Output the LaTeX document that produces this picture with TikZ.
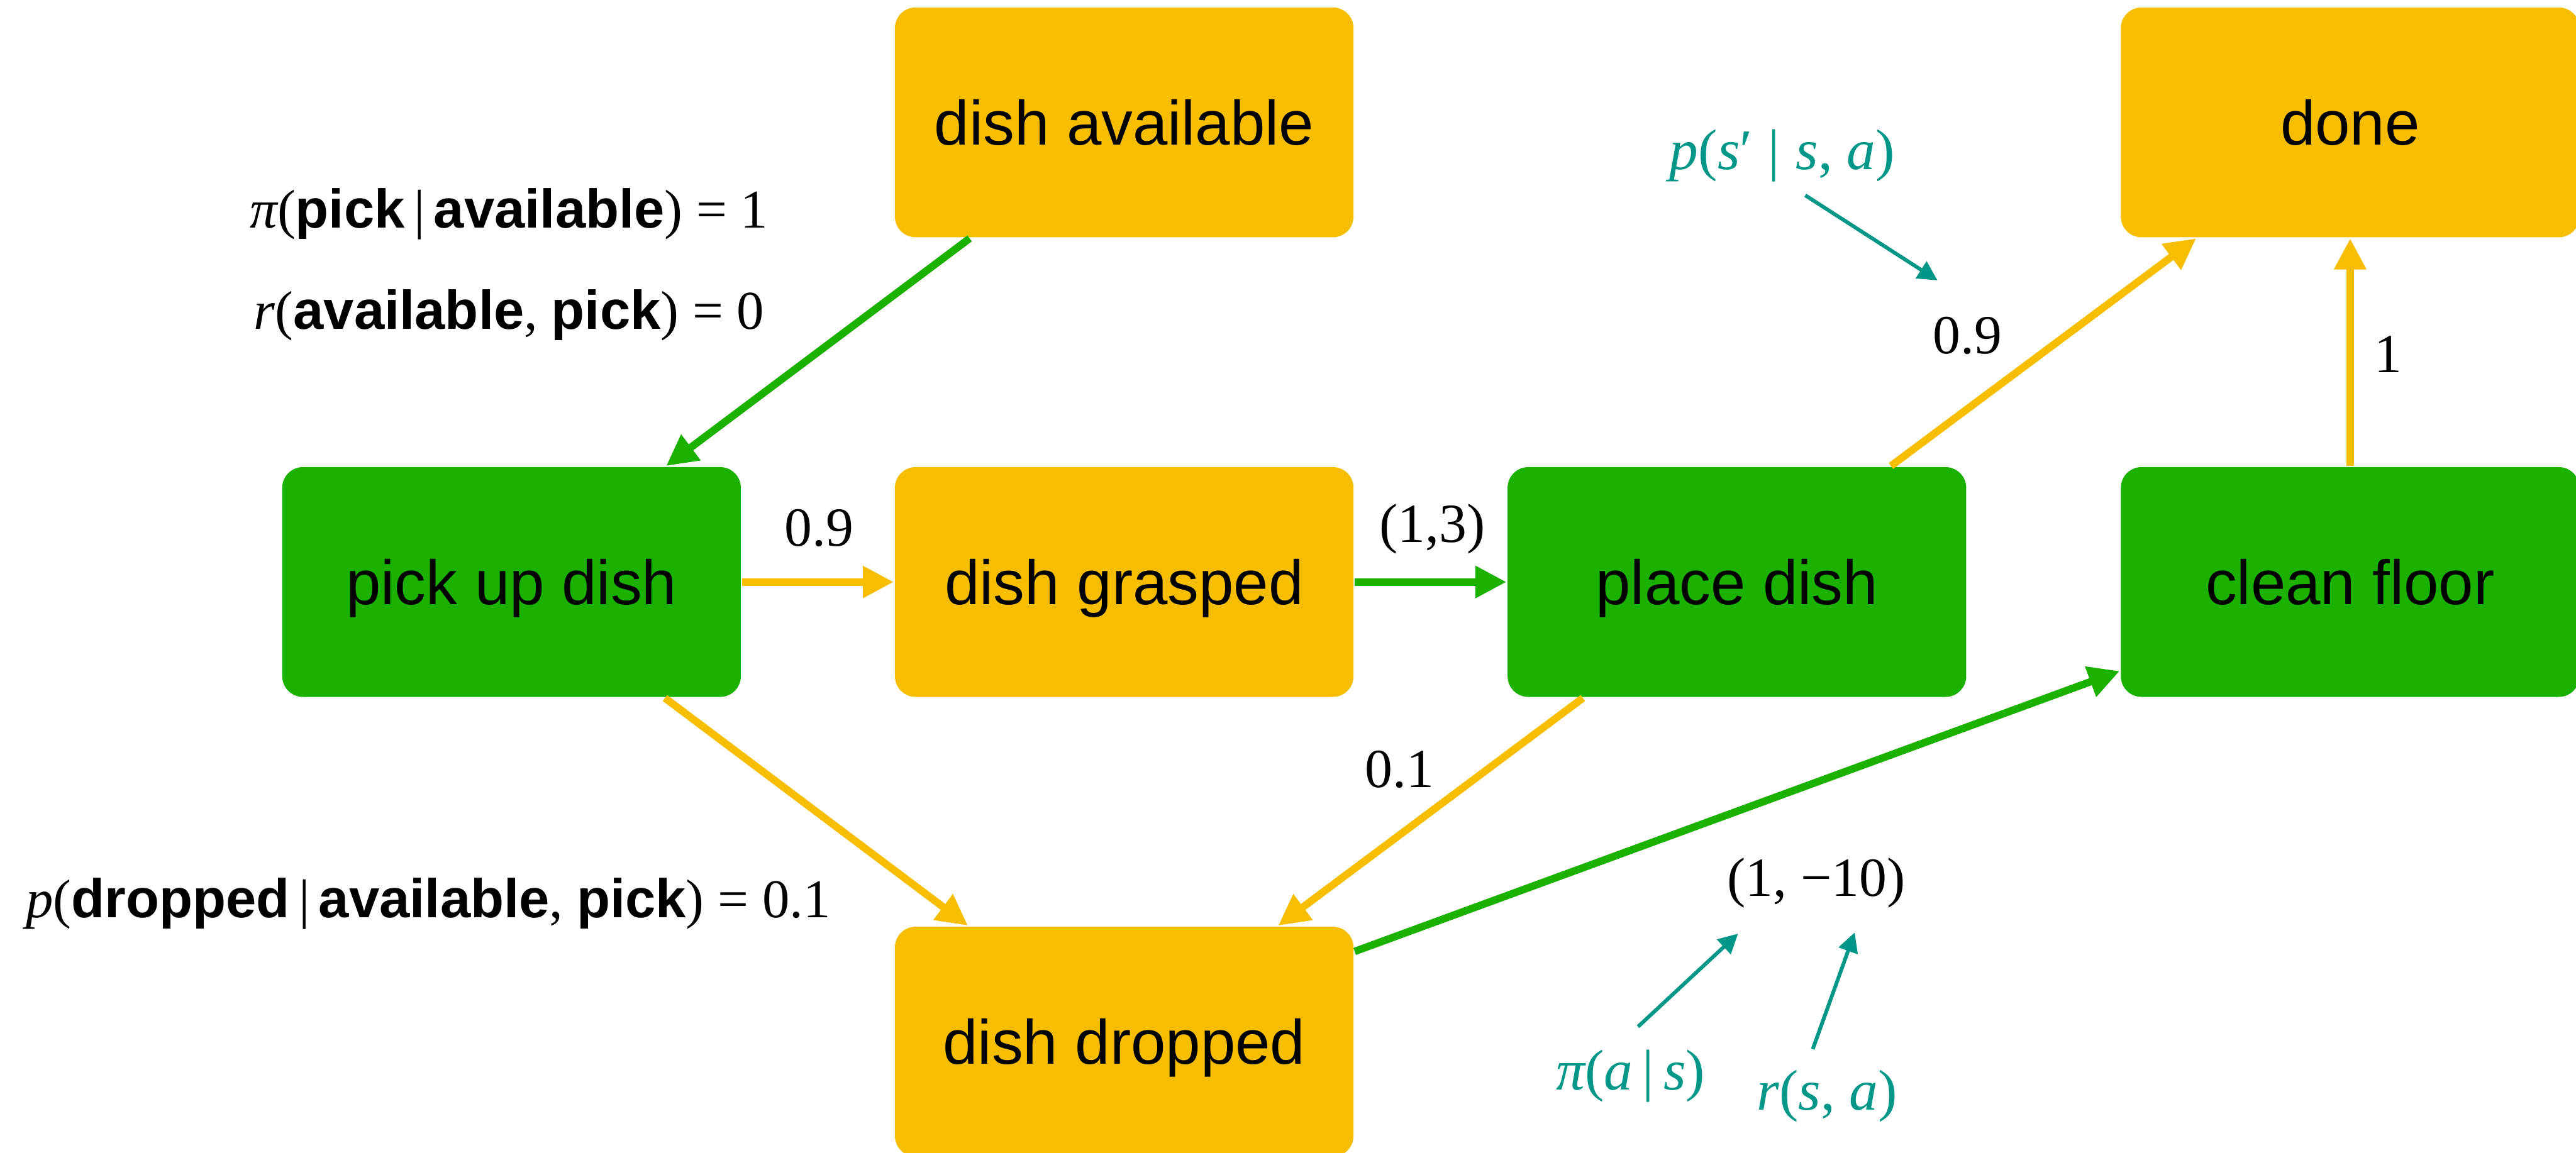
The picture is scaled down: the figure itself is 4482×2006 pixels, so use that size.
\documentclass[tikz,border=0pt]{standalone}
\usepackage{fontspec}
\setmainfont{Liberation Sans}
\newfontfamily\tms{Liberation Serif}
\newfontfamily\hel{Liberation Sans}
\usetikzlibrary{arrows.meta}
\definecolor{myyellow}{RGB}{247,190,0}
\definecolor{mygreen}{RGB}{27,177,0}
\definecolor{myteal}{RGB}{0,150,136}
\newcommand{\mi}[1]{{\tms\itshape #1}}
\newcommand{\tx}[1]{{\tms #1}}
\newcommand{\bs}[1]{{\hel\bfseries #1}}
\begin{document}
\begin{tikzpicture}[x=0.1pt,y=-0.1pt,
  box/.style={rounded corners=3.6pt, minimum width=79.8pt, minimum height=40pt,
    inner sep=0pt, text height=7.8pt, text depth=0pt,
    font=\fontsize{10.9}{13}\selectfont},
  ybox/.style={box, fill=myyellow},
  gbox/.style={box, fill=mygreen},
  yarr/.style={draw=myyellow, line width=1.3pt, -{Triangle[length=5.4pt,width=5.3pt]}},
  garr/.style={draw=mygreen, line width=1.3pt, -{Triangle[length=5.4pt,width=5.3pt]}},
  tarr/.style={draw=myteal, line width=0.65pt, -{Triangle[length=3.4pt,width=3.4pt]}},
  num/.style={font=\tms\fontsize{9.6}{11}\selectfont, inner sep=0pt, anchor=base},
  ann/.style={font=\fontsize{9.5}{11}\selectfont, inner sep=0pt, anchor=base west},
  tann/.style={text=myteal, font=\tms\fontsize{10}{12}\selectfont, inner sep=0pt, anchor=base},
]
\useasboundingbox (0,0) rectangle (4482,2006);

% state / action boxes
\node[ybox] (avail) at (1956,213) {dish available};
\node[ybox] (done)  at (4089,213) {done};
\node[gbox] (pick)  at (890,1013) {pick up dish};
\node[ybox] (grasp) at (1956,1013) {dish grasped};
\node[gbox] (place) at (3022,1013) {place dish};
\node[gbox] (clean) at (4089,1013) {clean floor};
\node[ybox] (drop)  at (1956,1813) {dish dropped};

% connectors
\draw[garr] ([xshift=13.2pt]avail.south west) -- ([xshift=-13.2pt]pick.north east);
\draw[yarr] (pick.east) -- (grasp.west);
\draw[garr] (grasp.east) -- (place.west);
\draw[yarr] ([xshift=-13.4pt]pick.south east) -- ([xshift=12.9pt]drop.north west);
\draw[yarr] ([xshift=13.3pt]place.south west) -- ([xshift=-13.3pt]drop.north east);
\draw[garr] ([yshift=-4.5pt]drop.north east) -- ([yshift=4.7pt]clean.south west);
\draw[yarr] ([xshift=-13.3pt]place.north east) -- ([xshift=13.3pt]done.south west);
\draw[yarr] (clean.north) -- (done.south);

% edge labels
\node[num] (l1) at (1425,950) {0.9};
\node[num] (l2) at (2492,944) {(1,3)};
\node[num] (l3) at (2435,1370) {0.1};
\node[num] (l4) at (4155,648) {1};
\node[num] (l5) at (3423,615) {0.9};
\node[num] (l6) at (3160,1560) {(1, −10)};

% black annotations
\node[ann] (a1) at (433,397) {\mi{π}\tx{(}\bs{pick}\tx{\,|\,}\bs{available}\tx{) = 1}};
\node[ann] (a2) at (440,573) {\mi{r}\tx{(}\bs{available}\tx{, }\bs{pick}\tx{) = 0}};
\node[ann] (a3) at (43,1597) {\mi{p}\tx{(}\bs{dropped}\tx{\,|\,}\bs{available}\tx{, }\bs{pick}\tx{) = 0.1}};

% teal annotations
\node[tann] (tp)  at (3101,295) {\mi{p}(\mi{s}′\;|\;\mi{s}, \mi{a})};
\node[tann] (tpi) at (2837,1897) {\mi{π}(\mi{a}\,|\,\mi{s})};
\node[tann] (tr)  at (3179,1932) {\mi{r}(\mi{s}, \mi{a})};
\coordinate (tps) at (3141,340);
\coordinate (tpe) at (3371,488);
\coordinate (tpis) at (2850,1787);
\coordinate (tpie) at (3024,1625);
\coordinate (trs) at (3154,1826);
\coordinate (tre) at (3227,1623);
\draw[tarr] (tps) -- (tpe);
\draw[tarr] (tpis) -- (tpie);
\draw[tarr] (trs) -- (tre);
\end{tikzpicture}
\end{document}
